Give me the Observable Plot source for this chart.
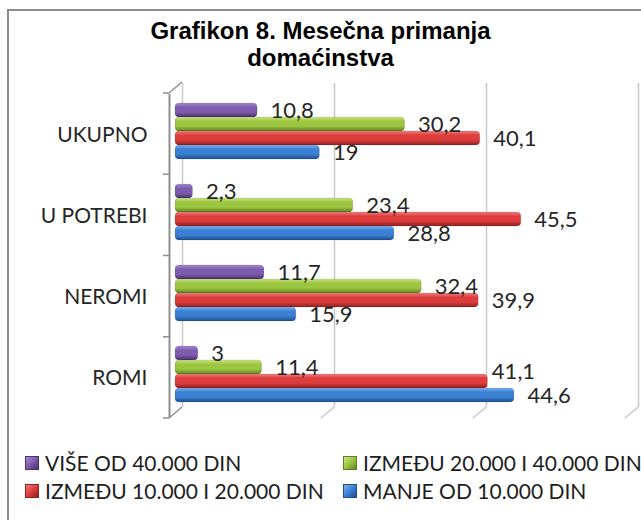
<!DOCTYPE html>
<html><head><meta charset="utf-8">
<script src="https://cdn.jsdelivr.net/npm/d3@7"></script>
<script src="https://cdn.jsdelivr.net/npm/@observablehq/plot@0.6"></script>
<style>
html,body{margin:0;padding:0;background:#fff;width:641px;height:520px;overflow:hidden;}
#frame{position:absolute;left:7px;top:9px;width:700px;height:600px;border:2px solid #8c8c8c;box-sizing:border-box;}
#wrap{position:absolute;left:0;top:0;width:641px;}
#title{height:75px;box-sizing:border-box;padding-top:17px;text-align:center;font:bold 24px/27px "Liberation Sans",Arial,sans-serif;color:#000;}
#chart svg{display:block;}
#legend{position:relative;height:100px;font:21px/26px "Lato",sans-serif;color:#1e1e1e;}
.item{position:absolute;display:flex;align-items:center;white-space:nowrap;}
.sw{width:14px;height:14px;margin-right:6px;box-sizing:border-box;}
</style></head><body>
<div id="frame"></div>
<div id="wrap">
  <div id="title">Grafikon 8. Mesečna primanja<br>domaćinstva</div>
  <div id="chart"></div>
  <div id="legend"></div>
</div>
<script>
// ---- data ----
const groups = ["UKUPNO", "U POTREBI", "NEROMI", "ROMI"];
const series = ["VIŠE OD 40.000 DIN", "IZMEĐU 20.000 I 40.000 DIN", "IZMEĐU 10.000 I 20.000 DIN", "MANJE OD 10.000 DIN"];
const viseOd40000 = [10.8, 2.3, 11.7, 3];
const izmedju20000i40000 = [30.2, 23.4, 32.4, 11.4];
const izmedju10000i20000 = [40.1, 45.5, 39.9, 41.1];
const manjeOd10000 = [19, 28.8, 15.9, 44.6];
const gridTicks = [0, 20, 40, 60];
// colors: [light, base, dark]
const seriesColors = [
  ["#a48ad2", "#7d5cad", "#4a306f"],
  ["#c8e482", "#9cc540", "#5f7f22"],
  ["#f27c7c", "#dd3d3d", "#8e2020"],
  ["#7cb2ee", "#3b80d3", "#1f4f8e"]
];
const legendOrder = [0, 1, 2, 3];

const valuesBySeries = [viseOd40000, izmedju20000i40000, izmedju10000i20000, manjeOd10000];
const data = groups.flatMap((g, i) => series.map((s, j) => ({
  group: g, series: s, value: valuesBySeries[j][i],
  next: j < series.length - 1 ? valuesBySeries[j + 1][i] : null
})));
const fmt = v => String(v).replace(".", ",");
// a label whose neighbour below would collide with it is lifted, as Excel does
const collides = d => d.next != null && Math.abs(d.next - d.value) < 6;

const plot = Plot.plot({
  width: 641, height: 345,
  marginLeft: 175, marginRight: 10, marginTop: 14, marginBottom: 6,
  style: {fontFamily: "Lato, sans-serif", fontSize: "22px", background: "transparent", overflow: "visible"},
  x: {domain: [0, 60], axis: null},
  y: {domain: series, paddingInner: 0.02, paddingOuter: 0.75, axis: null},
  fy: {domain: groups, padding: 0, axis: null},
  color: {domain: series, range: series.map((s, i) => `url(#grad${i})`)},
  marks: [
    Plot.ruleX(gridTicks, {stroke: "#c8c8c8", strokeWidth: 1.5, dx: 7, dy: -7}),
    Plot.ruleX([0], {stroke: "#8f8f8f", strokeWidth: 2, dx: -6, dy: 4}),
    Plot.barX(data, {fy: "group", y: "series", x: "value", fill: "series", rx: 4, stroke: "#00000030", strokeWidth: 0.5}),
    Plot.text(data, {filter: d => !collides(d), fy: "group", y: "series", x: "value", text: d => fmt(d.value), textAnchor: "start", dx: 13, fill: "#262626"}),
    Plot.text(data, {filter: collides, fy: "group", y: "series", x: "value", text: d => fmt(d.value), textAnchor: "start", dx: 4, dy: -10, fill: "#262626"}),
    Plot.text(groups, {fy: d => d, frameAnchor: "left", text: d => d, textAnchor: "end", dx: -28, dy: 4, fontSize: 21, fill: "#262626"})
  ]
});

// gradients for cylinder-like bars
const svg = d3.select(plot);
const defs = svg.insert("defs", ":first-child");
seriesColors.forEach((c, i) => {
  const g = defs.append("linearGradient").attr("id", `grad${i}`).attr("x1", 0).attr("y1", 0).attr("x2", 0).attr("y2", 1);
  [[0, c[0]], [0.3, c[1]], [0.65, c[1]], [1, c[2]]].forEach(([o, col]) => g.append("stop").attr("offset", o).attr("stop-color", col));
});

// 3D axis decorations derived from the plot's scales
const X = plot.scale("x"), FY = plot.scale("fy");
const x0 = X.apply(0);
const [fTop, fBot] = FY.range;
const step = (fBot - fTop) / groups.length;
const deco = svg.append("g").attr("stroke", "#8f8f8f").attr("stroke-width", 1.5).attr("fill", "none");
for (let k = 0; k <= groups.length; k++) {
  const yb = fTop + k * step + 4;
  deco.append("line").attr("x1", x0 - 12).attr("x2", x0 - 6).attr("y1", yb).attr("y2", yb);
}
deco.append("line").attr("x1", x0 - 6).attr("y1", fTop + 4).attr("x2", x0 + 7).attr("y2", fTop - 7);
gridTicks.forEach(v => {
  const xv = X.apply(v);
  svg.append("line").attr("stroke", v === 0 ? "#8f8f8f" : "#c8c8c8").attr("stroke-width", 1.5)
    .attr("x1", xv + 7).attr("y1", fBot - 7).attr("x2", xv - 6).attr("y2", fBot + 4);
});

document.getElementById("chart").appendChild(plot);

// legend
const legend = d3.select("#legend");
const colX = [25, 343], rowY = [30, 58];
legendOrder.forEach((si, k) => {
  const c = seriesColors[si];
  const item = legend.append("div").attr("class", "item")
    .style("left", colX[k % 2] + "px").style("top", rowY[Math.floor(k / 2)] + "px");
  item.append("div").attr("class", "sw")
    .style("background", `linear-gradient(135deg, ${c[0]} 0%, ${c[1]} 50%, ${c[2]} 100%)`)
    .style("border", `1px solid ${c[2]}`);
  item.append("span").text(series[si]);
});
</script>
</body></html>
